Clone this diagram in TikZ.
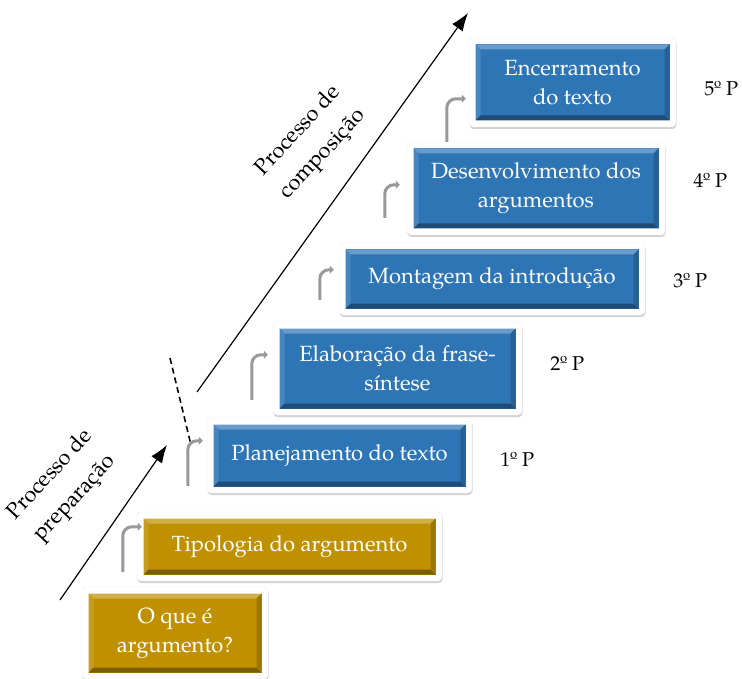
\documentclass[tikz,border=0pt]{standalone}
\usepackage{fontspec}
\setmainfont{TeX Gyre Pagella}
\usetikzlibrary{arrows.meta,positioning,shadows}

\definecolor{boxblue}{RGB}{46,117,182}
\definecolor{boxgold}{RGB}{191,144,0}

% inner bevelled panel of a step box
\newcommand{\bevelpanel}[1]{%
  \coordinate (pa) at ([shift={(6.5pt,6.5pt)}]path picture bounding box.south west);
  \coordinate (pc) at ([shift={(-6.5pt,-6.5pt)}]path picture bounding box.north east);
  \coordinate (pb) at (pa -| pc);
  \coordinate (pd) at (pa |- pc);
  \coordinate (qa) at ([shift={(5pt,5pt)}]pa);
  \coordinate (qb) at ([shift={(-5pt,5pt)}]pb);
  \coordinate (qc) at ([shift={(-5pt,-5pt)}]pc);
  \coordinate (qd) at ([shift={(5pt,-5pt)}]pd);
  \fill[sharp corners,#1] (pa) rectangle (pc);
  \fill[sharp corners,#1!72!white] (pd) -- (pc) -- (qc) -- (qd) -- cycle;
  \fill[sharp corners,#1!88!white] (pa) -- (pd) -- (qd) -- (qa) -- cycle;
  \fill[sharp corners,#1!65!black] (pa) -- (pb) -- (qb) -- (qa) -- cycle;
  \fill[sharp corners,#1!82!black] (pb) -- (pc) -- (qc) -- (qb) -- cycle;
}

\tikzset{
  stepbox/.style={rectangle, rounded corners=4pt, draw=black!8, fill=white,
    text=white, align=center, inner sep=0pt,
    font=\fontsize{22}{29}\selectfont,
    drop shadow={shadow xshift=0.5pt, shadow yshift=-2pt, opacity=.35},
    path picture={\bevelpanel{#1}}},
  stepbox/.default=boxblue,
  steplabel/.style={inner sep=0pt, font=\fontsize{20}{24}\selectfont},
  climb/.style={draw=black!40, line width=3pt, rounded corners=9pt,
    -{Triangle[length=4pt,width=8pt]}},
  phase/.style={draw, line width=1.2pt, -{Latex[length=18pt,width=13pt]}},
  phasetext/.style={rotate=47, align=center, font=\fontsize{22}{34}\selectfont}
}

\begin{document}
\begin{tikzpicture}[x=1pt,y=-1pt,node distance=28pt]
    \useasboundingbox[fill=white] (0,0) rectangle (742,679);

    % phase arrows
    \coordinate (prepA) at (60,600);
    \coordinate (prepB) at (167,445);
    \coordinate (compA) at (197,392);
    \coordinate (compB) at (468,13);
    \coordinate (cutA)  at (170,358);
    \coordinate (cutB)  at (191,445);
    \draw[phase] (prepA) -- (prepB);
    \draw[phase] (compA) -- (compB);
    \draw[line width=1.6pt, dash pattern=on 6pt off 4pt] (cutA) -- (cutB);

    \node[phasetext] (prep) at (63,487)  {Processo de\\preparação};
    \node[phasetext] (comp) at (311,143) {Processo de\\composição};

    % steps
    \node[stepbox=boxgold, minimum width=186, minimum height=92] (b1) at (175,633)   {O que é\\argumento?};
    \node[stepbox=boxgold, minimum width=305, minimum height=69] (b2) at (289.5,546.5) {Tipologia do argumento};
    \node[stepbox, minimum width=265, minimum height=75] (b3) at (339.5,455.5) {Planejamento do texto};
    \node[stepbox, minimum width=249, minimum height=93] (b4) at (397.5,368.5) {Elaboração da frase-\\síntese};
    \node[stepbox, minimum width=306, minimum height=72] (b5) at (492,279)     {Montagem da introdução};
    \node[stepbox, minimum width=258, minimum height=93] (b6) at (536,188.5)   {Desenvolvimento dos\\argumentos};
    \node[stepbox, minimum width=207, minimum height=89] (b7) at (572.5,82.5)  {Encerramento\\do texto};

    \node[steplabel] (p1) [right=of b3, yshift=-4pt]  {1º P};
    \node[steplabel] (p2) [right=of b4, yshift=5pt]   {2º P};
    \node[steplabel] (p3) [right=of b5, yshift=-2pt]  {3º P};
    \node[steplabel] (p4) [right=of b6, yshift=8pt]   {4º P};
    \node[steplabel] (p5) [right=of b7, yshift=-6pt]  {5º P};

    % small climbing arrows
    \foreach \lo/\hi/\dx/\gap/\ex/\drop in {b1/b2/41/15/5/15, b2/b3/51/26/-4/23,
        b3/b4/45/18/-5/33, b4/b5/47/22/-5/27, b5/b6/46/25/-7/43, b6/b7/40/0/-3/61}
      \draw[climb] ([xshift=\dx pt, yshift=\gap pt]\lo.north west)
        |- ([xshift=\ex pt, yshift=-\drop pt]\hi.north west);
\end{tikzpicture}
\end{document}
